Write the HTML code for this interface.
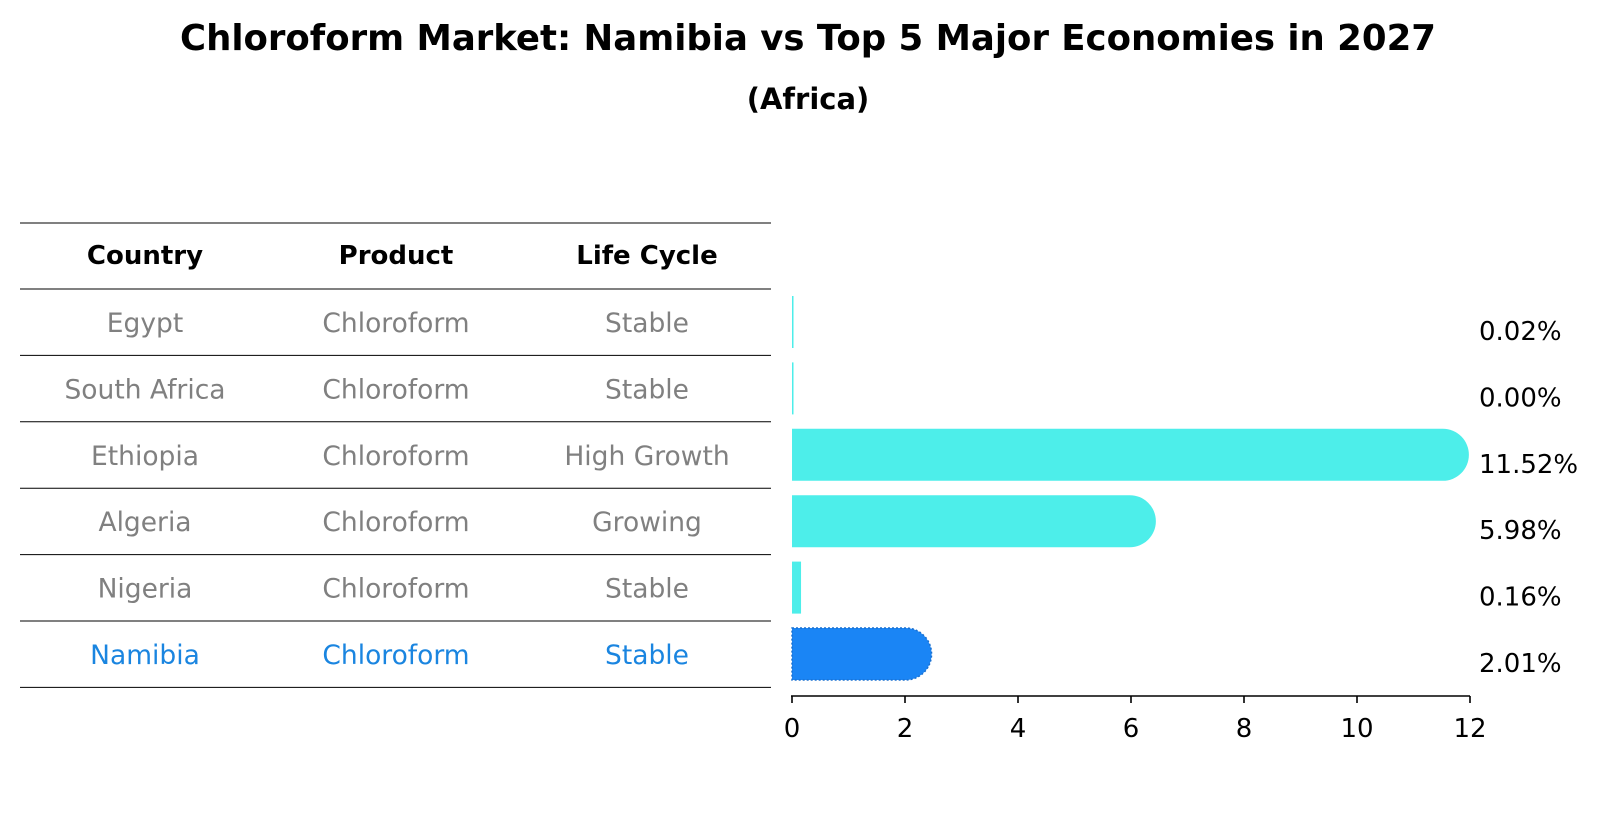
<!DOCTYPE html>
<html><head><meta charset="utf-8"><style>
body{margin:0;background:#fff;font-family:"Liberation Sans","DejaVu Sans",sans-serif;}
svg text{font-family:"DejaVu Sans","Liberation Sans",sans-serif;}
</style></head><body>
<svg width="1604" height="823" xmlns="http://www.w3.org/2000/svg">
<text x="808" y="50" text-anchor="middle" font-size="35.5" font-weight="bold">Chloroform Market: Namibia vs Top 5 Major Economies in 2027</text>
<text x="808" y="109" text-anchor="middle" font-size="29" font-weight="bold">(Africa)</text>
<g id="table"></g>
<g id="bars"></g>
</svg>
<script>
const countries=["Egypt","South Africa","Ethiopia","Algeria","Nigeria","Namibia"];
const products=["Chloroform","Chloroform","Chloroform","Chloroform","Chloroform","Chloroform"];
const lifeCycles=["Stable","Stable","High Growth","Growing","Stable","Stable"];
const values=[0.02,0.00,11.52,5.98,0.16,2.01];
const valueLabels=["0.02%","0.00%","11.52%","5.98%","0.16%","2.01%"];
const ticks=[0,2,4,6,8,10,12];
const NS="http://www.w3.org/2000/svg";
const table=document.getElementById('table'),bars=document.getElementById('bars');
function mk(tag,attrs,parent,txt){const e=document.createElementNS(NS,tag);for(const k in attrs)e.setAttribute(k,attrs[k]);if(txt!==undefined)e.textContent=txt;parent.appendChild(e);return e;}
const x0=792,xs=56.5,rowY=i=>322+i*66.4,bh=52;
const X=v=>x0+v*xs;
const colX=[145,396,647];
let l=mk('line',{x1:20,x2:771,y1:223,y2:223,stroke:'#000','stroke-width':1},table);


["Country","Product","Life Cycle"].forEach((h,j)=>{const t=mk('text',{x:colX[j],y:264,'text-anchor':'middle','font-size':26,'font-weight':'bold'},table,h);

});
for(let i=0;i<=countries.length;i++){const y=289+i*66.4;const ln=mk('line',{x1:20,x2:771,y1:y,y2:y,stroke:'#000','stroke-width':1},table);

}
countries.forEach((c,i)=>{const col=c==="Namibia"?"#1a85e0":"#808080";
[c,products[i],lifeCycles[i]].forEach((v,j)=>{const t=mk('text',{x:colX[j],y:rowY(i)+10,'text-anchor':'middle','font-size':26.5,fill:col},table,v);

});});
values.forEach((v,i)=>{const nam=countries[i]==="Namibia";const col=nam?"#1a85f5":"#4deeea";
const w=v*xs,y=rowY(i)-bh/2,r=bh/2;let el;
if(v>1){el=mk('path',{d:`M${x0},${y} H${x0+w} A${r},${r} 0 0 1 ${x0+w},${y+bh} H${x0} Z`,fill:col},bars);}
else{el=mk('rect',{x:x0,y:y,width:Math.max(w,1.5),height:bh,fill:col},bars);}
if(nam){el.setAttribute('stroke','#1a70d0');el.setAttribute('stroke-dasharray','2,2');el.setAttribute('stroke-width','1.5');}


const t=mk('text',{x:1479,y:rowY(i)+18,'font-size':26},bars,valueLabels[i]);

});
const ax=mk('line',{x1:x0-1,x2:1470,y1:696,y2:696,stroke:'#000','stroke-width':1.6},bars);


ticks.forEach(tk=>{const tl=mk('line',{x1:X(tk),x2:X(tk),y1:696,y2:703,stroke:'#000','stroke-width':1.6},bars);


const t=mk('text',{x:X(tk),y:737,'text-anchor':'middle','font-size':26},bars,String(tk));

});
</script>
</body></html>
